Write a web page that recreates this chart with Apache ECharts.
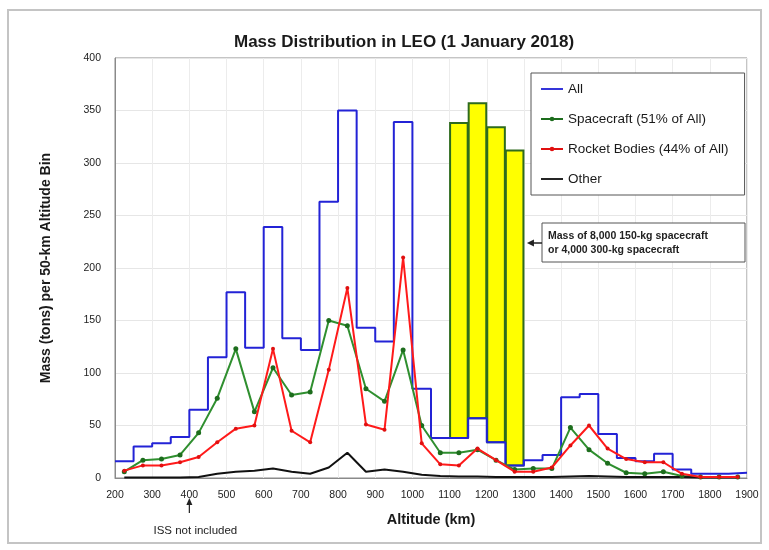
<!DOCTYPE html>
<html><head><meta charset="utf-8">
<script src="https://cdn.jsdelivr.net/npm/echarts@6/dist/echarts.min.js"></script>
<style>html,body{margin:0;padding:0;background:#fff}#c{width:769px;height:550px}</style>
</head><body><div id="c"></div>
<script>
// Altitude bins (bin start, km), each bin 50 km wide
const altitudeBins = [200,250,300,350,400,450,500,550,600,650,700,750,800,850,900,950,1000,1050,1100,1150,1200,1250,1300,1350,1400,1450,1500,1550,1600,1650,1700,1750,1800,1850];
const binWidth = 50;
// Mass (tons) per 50-km bin
const allMass       = [16,30,33,39,65,115,177,124,239,133,122,263,350,143,130,339,85,38,38,57,34,12,17,22,77,80,42,19,16,23,8,4,4,5];
const spacecraftMass= [6,17,18,22,43,76,123,63,105,79,82,150,145,85,73,122,50,24,24,27,17,8,9,9,48,27,14,5,4,6,2,1,1,1];
const rocketMass    = [7,12,12,15,20,34,47,50,123,45,34,103,181,51,46,210,33,13,12,28,17,6,6,10,31,50,28,18,15,15,4,1,1,1];
const otherMass     = [0.5,0.5,0.5,0.5,1,4,6,7,9,6,4,10,24,6,8,6,3,2,1.5,1.5,1,1,1,1,1.5,2,1.5,1,1,1,1,0.5,0.5,0.5];
// Hypothetical added mass (8,000 x 150 kg) spread over bins
const addedBins = [1100,1150,1200,1250];
const addedMass = [300,300,300,300];
const xTicks = {min:200, max:1900, interval:100};
const yTicks = {min:0, max:400, interval:50};

const centers = altitudeBins.map(a => a + binWidth/2);
const pts = arr => arr.map((v,i)=>[centers[i], v]);
const stepData = allMass.map((v,i)=>[altitudeBins[i], v]);
stepData.push([altitudeBins[altitudeBins.length-1] + binWidth, allMass[allMass.length-1]]);
const yellowData = addedBins.map((b,i)=>{
  const base = allMass[altitudeBins.indexOf(b)];
  return [b, base, base + addedMass[i]];
});

const FONT = 'Liberation Sans';
const lineIcon = 'path://M0,3 L24,3 L24,5 L0,5 Z';
const dotIcon = 'path://M0,3 L24,3 L24,5 L0,5 Z M9.5,4 A2.5,2.5 0 1,1 14.5,4 A2.5,2.5 0 1,1 9.5,4 Z';
const chart = echarts.init(document.getElementById('c'), null, {renderer:'canvas'});
chart.setOption({
  animation:false,
  backgroundColor:'#fff',
  textStyle:{fontFamily:FONT},
  title:{text:'Mass Distribution in LEO (1 January 2018)', left:229, top:29,
    textStyle:{fontFamily:FONT, fontSize:17, fontWeight:'bold', color:'#1a1a1a'}},
  grid:{left:115, right:22, top:58, bottom:72, show:true, borderColor:'#8a8a8a', borderWidth:1},
  xAxis:{type:'value', min:xTicks.min, max:xTicks.max, interval:xTicks.interval,
    name:'Altitude (km)', nameLocation:'middle', nameGap:34,
    nameTextStyle:{fontFamily:FONT, fontSize:14.5, fontWeight:'bold', color:'#1a1a1a'},
    axisLine:{show:true, lineStyle:{color:'#8a8a8a'}}, axisTick:{show:false},
    axisLabel:{fontFamily:FONT, fontSize:10.5, color:'#222', margin:12, formatter:v=>String(v)},
    splitLine:{show:true, lineStyle:{color:'#ececec'}}},
  yAxis:{type:'value', min:yTicks.min, max:yTicks.max, interval:yTicks.interval,
    name:'Mass (tons) per 50-km Altitude Bin', nameLocation:'middle', nameGap:62,
    nameTextStyle:{fontFamily:FONT, fontSize:14, fontWeight:'bold', color:'#1a1a1a'},
    axisLine:{show:true, lineStyle:{color:'#8a8a8a'}}, axisTick:{show:false},
    axisLabel:{fontFamily:FONT, fontSize:10.5, color:'#222', margin:14},
    splitLine:{show:true, lineStyle:{color:'#e6e6e6'}}},
  legend:{orient:'vertical', left:531, top:73, padding:[9,16,9,10], itemGap:16, itemWidth:22, itemHeight:14,
    borderColor:'#555', borderWidth:1, backgroundColor:'#fff',
    itemStyle:{borderWidth:0},
    textStyle:{fontFamily:FONT, fontSize:13.5, color:'#1a1a1a'},
    data:[{name:'All', icon:lineIcon},{name:'Spacecraft (51% of All)', icon:dotIcon},
          {name:'Rocket Bodies (44% of All)', icon:dotIcon},{name:'Other', icon:lineIcon}]},
  series:[
    {type:'custom', name:'Added', z:1, silent:true,
     renderItem:(params, api)=>{
       const p0 = api.coord([api.value(0), api.value(1)]);
       const p1 = api.coord([api.value(0)+binWidth, api.value(2)]);
       return {type:'rect', shape:{x:p0[0]+0.5, y:p1[1], width:p1[0]-p0[0]-1, height:p0[1]-p1[1]},
         style:{fill:'#ffff00', stroke:'#2e6b1e', lineWidth:2}};
     },
     encode:{x:0, y:[1,2]}, data:yellowData},
    {type:'line', name:'All', z:3, step:'end', data:stepData, symbol:'none',
     lineStyle:{color:'#2323d6', width:2}, itemStyle:{color:'#2323d6'}},
    {type:'line', name:'Spacecraft (51% of All)', z:4, data:pts(spacecraftMass), symbol:'circle', symbolSize:5,
     lineStyle:{color:'#2f8f2f', width:2}, itemStyle:{color:'#1d6d1d'}},
    {type:'line', name:'Rocket Bodies (44% of All)', z:5, data:pts(rocketMass), symbol:'circle', symbolSize:4,
     lineStyle:{color:'#ff1a1a', width:2}, itemStyle:{color:'#e01010'}},
    {type:'line', name:'Other', z:4, data:pts(otherMass), symbol:'none',
     lineStyle:{color:'#111', width:2}, itemStyle:{color:'#111'}}
  ]
});

// annotations
const issX = chart.convertToPixel({xAxisIndex:0}, 400);
const tip = chart.convertToPixel({xAxisIndex:0, yAxisIndex:0}, [1300, 225]);
chart.setOption({graphic:[
  {type:'rect', shape:{x:8, y:10, width:753, height:533}, style:{fill:'none', stroke:'#c4c4c4', lineWidth:2}, silent:true},
  {type:'rect', shape:{x:542, y:223, width:203, height:39}, style:{fill:'#fff', stroke:'#555', lineWidth:1}, z:10},
  {type:'text', x:548, y:229, z:11, style:{text:'Mass of 8,000 150-kg spacecraft\nor 4,000 300-kg spacecraft', font:'bold 10.5px "Liberation Sans"', fill:'#222', lineHeight:14}},
  {type:'line', shape:{x1:542, y1:243, x2:tip[0]+9, y2:243}, style:{stroke:'#222', lineWidth:1.5}, z:11},
  {type:'polygon', shape:{points:[[tip[0]+3,243],[tip[0]+10,239.5],[tip[0]+10,246.5]]}, style:{fill:'#222'}, z:11},
  {type:'line', shape:{x1:issX, y1:513, x2:issX, y2:503}, style:{stroke:'#222', lineWidth:1.2}, z:11},
  {type:'polygon', shape:{points:[[issX,498],[issX-3,505],[issX+3,505]]}, style:{fill:'#222'}, z:11},
  {type:'text', x:issX+6, y:531, z:11, style:{text:'ISS not included', font:'11.5px "Liberation Sans"', fill:'#222', align:'center', verticalAlign:'middle'}}
]});
</script></body></html>
